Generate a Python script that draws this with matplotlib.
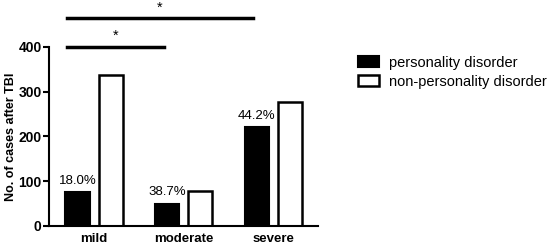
import numpy as np
import matplotlib
matplotlib.use('Agg')
import matplotlib.pyplot as plt

plt.rcParams['font.family'] = ['Liberation Sans', 'DejaVu Sans']

# data
groups = ['mild', 'moderate', 'severe']
pd_cases = [75, 50, 221]
non_pd_cases = [338, 78, 277]
pct_labels = ['18.0%', '38.7%', '44.2%']

fig = plt.figure(figsize=(5.51, 2.49), dpi=100)
ax = fig.add_axes([0.0895, 0.0924, 0.488, 0.719])

x = np.arange(len(groups))
w = 0.27
off = 0.185
ax.bar(x - off, pd_cases, w, color='black', edgecolor='black', linewidth=1.5,
       label='personality disorder')
ax.bar(x + off, non_pd_cases, w, color='white', edgecolor='black', linewidth=1.8,
       label='non-personality disorder')

for xi, v, t in zip(x, pd_cases, pct_labels):
    ax.text(xi - off, v + 12, t, ha='center', va='bottom', fontsize=9.5)

ax.set_xlim(-0.5, 2.5)
ax.set_ylim(0, 400)
ax.set_yticks([0, 100, 200, 300, 400])
ax.set_xticks(x)
ax.set_xticklabels(groups, fontweight='bold', fontsize=9.5)
ax.tick_params(axis='x', length=0, pad=5)
ax.tick_params(axis='y', length=4, width=1.5, pad=1.5)
for lbl in ax.get_yticklabels():
    lbl.set_fontweight('bold')
    lbl.set_fontsize(10)
ax.set_ylabel('No. of cases after TBI', fontweight='bold', fontsize=9, labelpad=1)

for s in ['top', 'right']:
    ax.spines[s].set_visible(False)
for s in ['left', 'bottom']:
    ax.spines[s].set_linewidth(1.5)

# significance bars
ax.plot([-0.30, 0.78], [400, 400], color='black', lw=2.5, clip_on=False)
ax.text(0.24, 410, '*', ha='center', va='bottom', fontsize=10.5)
ax.plot([-0.30, 1.77], [465, 465], color='black', lw=2.5, clip_on=False)
ax.text(0.735, 473, '*', ha='center', va='bottom', fontsize=10.5)

fig.legend(loc='upper left', bbox_to_anchor=(0.640, 0.80), frameon=False,
           fontsize=10.5, handlelength=1.4, handleheight=0.75, handletextpad=0.7,
           labelspacing=0.35, borderaxespad=0)

fig.savefig('out.png', dpi=100)
